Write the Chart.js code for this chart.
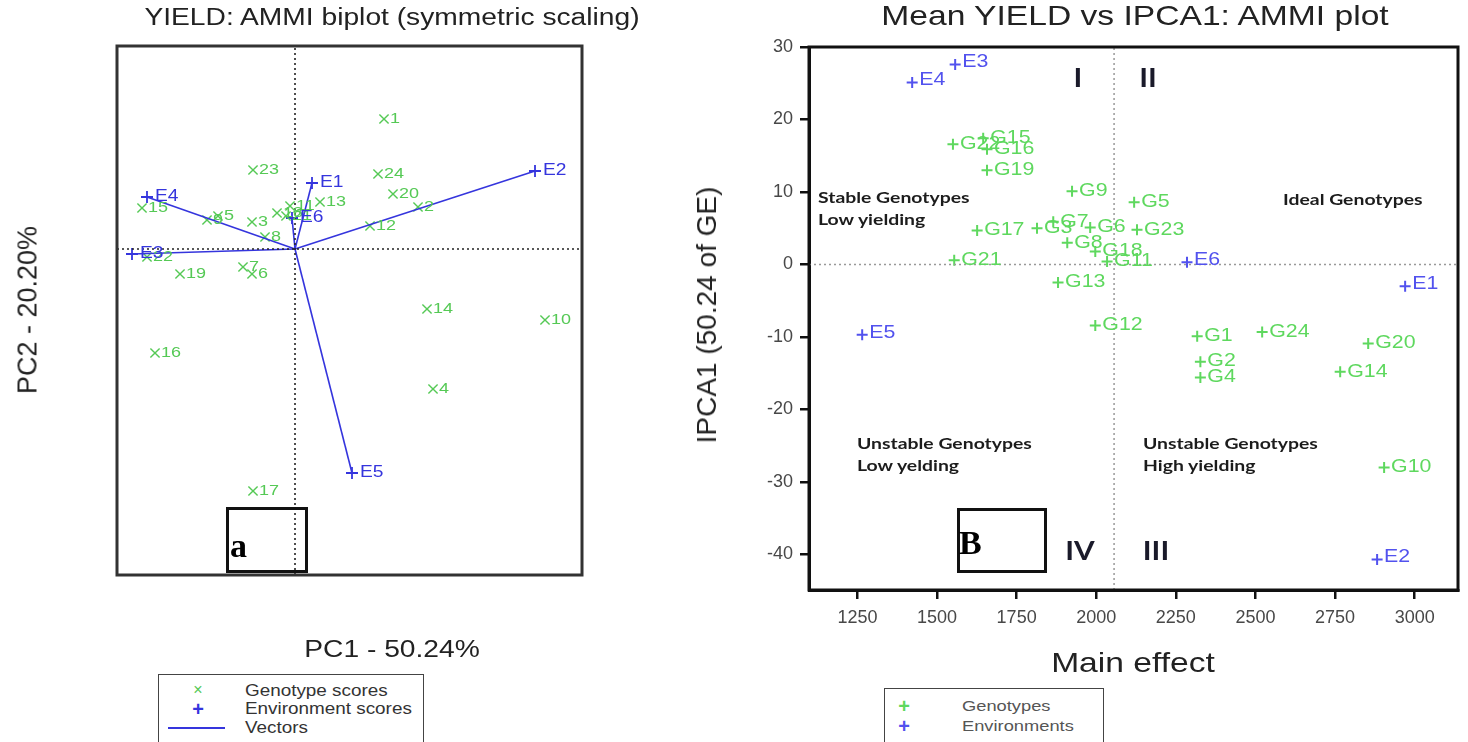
<!DOCTYPE html>
<html><head><meta charset="utf-8">
<script src="https://cdn.jsdelivr.net/npm/chart.js@4.4.1/dist/chart.umd.min.js"></script>
<style>
html,body{margin:0;padding:0;background:#fff;}
body{width:1468px;height:742px;position:relative;overflow:hidden;font-family:"Liberation Sans",Arial,sans-serif;}
.t{position:absolute;white-space:nowrap;line-height:1;}
#leftWrap{position:absolute;left:0;top:0;width:700px;height:742px;}
#rightWrap{position:absolute;left:700px;top:0;width:768px;height:742px;}
.box{position:absolute;border:3px solid #111;box-sizing:border-box;}
.lg{position:absolute;border:1.5px solid #444;box-sizing:border-box;background:#fff;}
</style></head><body>
<div id="leftWrap"><canvas id="left" width="700" height="742"></canvas></div>
<div id="rightWrap"><canvas id="right" width="768" height="742"></canvas></div>
<script>
// ---------- DATA: left panel (AMMI biplot, symmetric scaling) ----------
const genotypeIds = ['1','2','3','4','5','6','7','8','9','10','11','12','13','14','15','16','17','18','19','20','21','22','23','24'];
const biplotGenoPC1 = [8.9, 12.3, -4.3, 13.8, -7.7, -4.3, -5.2, -3.0, -8.8, 25.0, -0.5, 7.5, 2.5, 13.2, -15.3, -14.0, -4.2, -1.8, -11.5, 9.8, -0.9, -14.8, -4.2, 8.3];
const biplotGenoPC2 = [13.0, 4.2, 2.7, -14.0, 3.3, -2.5, -1.8, 1.2, 2.9, -7.1, 4.3, 2.3, 4.7, -6.0, 4.1, -10.4, -24.2, 3.6, -2.5, 5.5, 3.3, -0.8, 7.9, 7.5];
const envIds = ['E1','E2','E3','E4','E5','E6'];
const biplotEnvPC1 = [1.7, 24.0, -16.3, -14.8, 5.7, -0.3];
const biplotEnvPC2 = [6.6, 7.8, -0.5, 5.2, -22.4, 3.1];
const biplotXRange = [-17.8, 28.7];
const biplotYRange = [-32.6, 20.3];

// ---------- DATA: right panel (Mean yield vs IPCA1) ----------
const genoLabels = ['G1','G2','G3','G4','G5','G6','G7','G8','G9','G10','G11','G12','G13','G14','G15','G16','G17','G18','G19','G20','G21','G22','G23','G24'];
const meanGenoYield = [2317, 2327, 1814, 2327, 2119, 1981, 1865, 1909, 1924, 2904, 2034, 1997, 1880, 2766, 1645, 1657, 1626, 1997, 1657, 2854, 1554, 1550, 2128, 2521];
const genoIPCA1 = [-9.9, -13.4, 5.0, -15.6, 8.6, 5.1, 5.9, 3.0, 10.1, -28.0, 0.4, -8.4, -2.5, -14.8, 17.4, 15.9, 4.7, 1.8, 13.0, -10.9, 0.6, 16.6, 4.8, -9.3];
const meanEnvYield = [2970, 2882, 1557, 1422, 1265, 2285];
const envIPCA1 = [-3.0, -40.7, 27.6, 25.1, -9.7, 0.3];
const grandMean = 2056;
const mainEffectRange = [1098, 3136];
const ipcaRange = [-44.9, 30];
const mainEffectTicks = [1250, 1500, 1750, 2000, 2250, 2500, 2750, 3000];
const ipcaTicks = [-40, -30, -20, -10, 0, 10, 20, 30];

// ---------- colours ----------
const GREEN_L = '#55c955', BLUE_L = '#3535dd';
const GREEN_R = '#5ed85e', BLUE_R = '#5252ee';

// ---------- plugins ----------
const frame = {
  id:'frame',
  afterDraw(chart, args, opts){
    const {left,top,right,bottom} = chart.chartArea, ctx = chart.ctx;
    ctx.save(); ctx.strokeStyle = opts.color || '#222'; ctx.lineWidth = opts.width || 2;
    ctx.strokeRect(left, top, right-left, bottom-top); ctx.restore();
  }
};
const pointLabels = {
  id:'pointLabels',
  afterDatasetsDraw(chart){
    const ctx = chart.ctx;
    chart.data.datasets.forEach((ds,i)=>{
      if(!ds.labels) return;
      const meta = chart.getDatasetMeta(i);
      ctx.save();
      ctx.font = ds.labelFont; ctx.fillStyle = ds.labelColor;
      ctx.textBaseline = 'middle'; ctx.textAlign = 'left';
      meta.data.forEach((el,j)=>{
        ctx.save();
        ctx.translate(el.x + ds.labelDx, el.y + (ds.labelDy||0));
        ctx.scale(ds.labelSX||1, 1);
        ctx.fillText(ds.labels[j], 0, 0);
        ctx.restore();
      });
      ctx.restore();
    });
  }
};

// ---------- left chart ----------
const zip = (xs, ys) => xs.map((x,i)=>({x, y: ys[i]}));
const vectorSets = envIds.map((e,i)=>({
  label:'Vector '+e, data:[{x:0,y:0},{x:biplotEnvPC1[i], y:biplotEnvPC2[i]}],
  showLine:true, borderColor:BLUE_L, borderWidth:1.6, pointRadius:0
}));
new Chart(document.getElementById('left'), {
  type:'scatter',
  data:{datasets:[
    {label:'h0', data:[{x:biplotXRange[0],y:0},{x:biplotXRange[1],y:0}], showLine:true, borderColor:'#222', borderWidth:1.6, borderDash:[2,3], pointRadius:0},
    {label:'v0', data:[{x:0,y:biplotYRange[0]},{x:0,y:biplotYRange[1]}], showLine:true, borderColor:'#222', borderWidth:1.6, borderDash:[2,3], pointRadius:0},
    ...vectorSets,
    {label:'Genotype scores', data:zip(biplotGenoPC1, biplotGenoPC2), pointStyle:'crossRot', pointRadius:6.5, borderColor:GREEN_L, backgroundColor:GREEN_L, borderWidth:1.4,
      labels:genotypeIds, labelFont:'15px "Liberation Sans", Arial', labelColor:GREEN_L, labelDx:6, labelSX:1.2},
    {label:'Environment scores', data:zip(biplotEnvPC1, biplotEnvPC2), pointStyle:'cross', pointRadius:6, borderColor:BLUE_L, backgroundColor:BLUE_L, borderWidth:1.8,
      labels:envIds, labelFont:'16px "Liberation Sans", Arial', labelColor:BLUE_L, labelDx:8, labelSX:1.2}
  ]},
  options:{
    responsive:false, animation:false, devicePixelRatio:1,
    layout:{padding:{left:117, right:118, top:46, bottom:167}},
    scales:{
      x:{type:'linear', display:false, min:biplotXRange[0], max:biplotXRange[1]},
      y:{type:'linear', display:false, min:biplotYRange[0], max:biplotYRange[1]}
    },
    plugins:{legend:{display:false}, tooltip:{enabled:false}, frame:{color:'#333', width:3}}
  },
  plugins:[frame, pointLabels]
});

// ---------- right chart ----------
const tickFont = {size:18, family:'"Liberation Sans", Arial'};
new Chart(document.getElementById('right'), {
  type:'scatter',
  data:{datasets:[
    {label:'h0', data:[{x:mainEffectRange[0],y:0},{x:mainEffectRange[1],y:0}], showLine:true, borderColor:'#999', borderWidth:1.5, borderDash:[2,3], pointRadius:0},
    {label:'mean', data:[{x:grandMean,y:ipcaRange[0]},{x:grandMean,y:ipcaRange[1]}], showLine:true, borderColor:'#999', borderWidth:1.5, borderDash:[2,3], pointRadius:0},
    {label:'Genotypes', data:zip(meanGenoYield, genoIPCA1), pointStyle:'cross', pointRadius:5.5, borderColor:GREEN_R, backgroundColor:GREEN_R, borderWidth:2,
      labels:genoLabels, labelFont:'17.5px "Liberation Sans", Arial', labelColor:GREEN_R, labelDx:7, labelSX:1.22},
    {label:'Environments', data:zip(meanEnvYield, envIPCA1), pointStyle:'cross', pointRadius:5.5, borderColor:BLUE_R, backgroundColor:BLUE_R, borderWidth:2,
      labels:envIds, labelFont:'17.5px "Liberation Sans", Arial', labelColor:BLUE_R, labelDx:7, labelDy:-2, labelSX:1.22}
  ]},
  options:{
    responsive:false, animation:false, devicePixelRatio:1,
    layout:{padding:{left:0, right:10, top:47, bottom:100}},
    scales:{
      x:{type:'linear', min:mainEffectRange[0], max:mainEffectRange[1],
        afterFit(s){ s.height = 52; },
        afterBuildTicks(s){ s.ticks = mainEffectTicks.map(v=>({value:v})); },
        ticks:{padding:8, color:'#484848', font:tickFont, maxRotation:0, autoSkip:false, callback:v=>String(v)},
        grid:{display:true, drawOnChartArea:false, drawTicks:true, tickLength:9, color:'#111', lineWidth:2.5},
        border:{display:true, color:'#111', width:3}},
      y:{type:'linear', min:ipcaRange[0], max:ipcaRange[1],
        afterFit(s){ s.width = 109; },
        afterBuildTicks(s){ s.ticks = ipcaTicks.map(v=>({value:v})); },
        ticks:{padding:7, color:'#484848', font:tickFont, autoSkip:false, callback:v=>String(v)},
        grid:{display:true, drawOnChartArea:false, drawTicks:true, tickLength:9, color:'#111', lineWidth:2.5},
        border:{display:true, color:'#111', width:3}}
    },
    plugins:{legend:{display:false}, tooltip:{enabled:false}, frame:{color:'#111', width:3}}
  },
  plugins:[frame, pointLabels]
});

// ---------- text (real DOM text) ----------
function addText(txt, x, y, o){
  o = o || {};
  const d = document.createElement('div');
  d.className = 't';
  d.textContent = txt;
  d.style.left = x + 'px'; d.style.top = y + 'px';
  d.style.fontSize = (o.size||16) + 'px';
  d.style.color = o.color || '#222';
  if(o.family) d.style.fontFamily = o.family;
  if(o.weight) d.style.fontWeight = o.weight;
  const sx = o.sx || 1;
  if(o.rot){
    d.style.transform = 'translate(-50%,-50%) rotate(-90deg)';
  } else if(o.align === 'left'){
    d.style.transformOrigin = '0 50%';
    d.style.transform = 'translate(0,-50%) scaleX(' + sx + ')';
  } else {
    d.style.transform = 'translate(-50%,-50%) scaleX(' + sx + ')';
  }
  document.body.appendChild(d);
  return d;
}
function addBox(cls, x, y, w, h){
  const d = document.createElement('div');
  d.className = cls;
  d.style.left = x+'px'; d.style.top = y+'px'; d.style.width = w+'px'; d.style.height = h+'px';
  document.body.appendChild(d);
  return d;
}

// titles
addText('YIELD: AMMI biplot (symmetric scaling)', 392, 18, {size:23.5, sx:1.2});
addText('Mean YIELD vs IPCA1: AMMI plot', 1135, 16, {size:28, sx:1.2});
addText('PC2 - 20.20%', 28, 310, {size:27, rot:true});
addText('PC1 - 50.24%', 392, 650, {size:23.5, sx:1.2});
addText('IPCA1 (50.24 of GE)', 707, 315, {size:28, rot:true});
addText('Main effect', 1133, 663, {size:28, sx:1.2});

// quadrant notes
const noteFont = {size:15.5, sx:1.25, weight:700, family:'Lato, "Open Sans", sans-serif', color:'#1c1c1c', align:'left'};
addText('Stable Genotypes', 818, 198, noteFont);
addText('Low yielding', 818, 220, noteFont);
addText('Ideal Genotypes', 1283, 200, noteFont);
addText('Unstable Genotypes', 857, 444, noteFont);
addText('Low yelding', 857, 466, noteFont);
addText('Unstable Genotypes', 1143, 444, noteFont);
addText('High yielding', 1143, 466, noteFont);
const quadFont = {size:27, sx:1.1, weight:700, family:'Lato, "Open Sans", sans-serif', color:'#1a1a2a'};
addText('I', 1078, 76, quadFont);
addText('II', 1148, 76, quadFont);
addText('IV', 1080, 549, quadFont);
addText('III', 1156, 549, quadFont);

// panel letters
addBox('box', 226, 507, 82, 66);
addText('a', 230, 546, {size:34, weight:700, family:'"Liberation Serif", "Times New Roman", serif', color:'#000', align:'left'});
addBox('box', 957, 508, 90, 65);
addText('B', 959, 543, {size:34, weight:700, family:'"Liberation Serif", "Times New Roman", serif', color:'#000', align:'left'});

// left legend
addBox('lg', 158, 674, 266, 80);
addText('\u00d7', 198, 690, {size:16, color:GREEN_L});
addText('+', 198, 709, {size:20, weight:700, color:BLUE_L});
const ln = document.createElement('div');
ln.style.cssText = 'position:absolute;left:168px;top:727px;width:57px;height:2px;background:'+BLUE_L+';';
document.body.appendChild(ln);
const lgFont = {size:16, sx:1.18, color:'#333', align:'left'};
addText('Genotype scores', 245, 691, lgFont);
addText('Environment scores', 245, 709, lgFont);
addText('Vectors', 245, 728, lgFont);

// right legend
addBox('lg', 884, 688, 220, 70);
addText('+', 904, 706, {size:20, weight:700, color:GREEN_R});
addText('+', 904, 726, {size:20, weight:700, color:BLUE_R});
const lgFontR = {size:15.5, sx:1.18, color:'#555', align:'left'};
addText('Genotypes', 962, 706, lgFontR);
addText('Environments', 962, 726, lgFontR);
</script>
</body></html>
